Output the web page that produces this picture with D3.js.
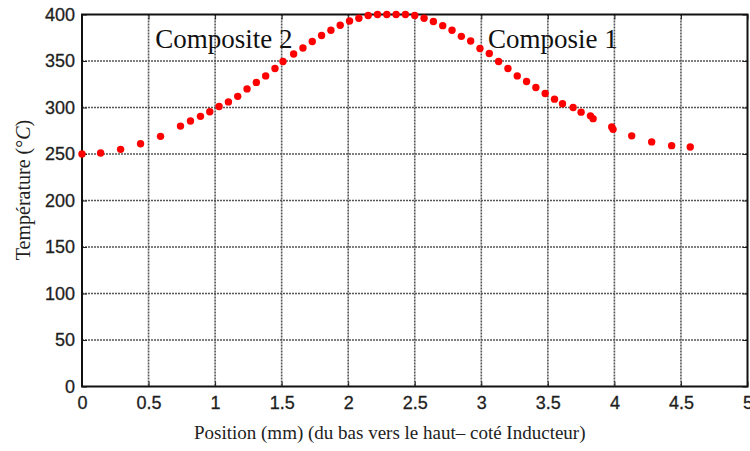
<!DOCTYPE html>
<html>
<head>
<meta charset="utf-8">
<script src="https://cdn.jsdelivr.net/npm/d3@7"></script>
<style>
  body { margin: 0; background: #fff; }
  svg { display: block; }
</style>
</head>
<body>
<div id="chart"></div>
<script>
// data
var positions = [0, 0.14, 0.29, 0.44, 0.59, 0.74, 0.815, 0.89, 0.96, 1.03, 1.10, 1.17, 1.24, 1.31, 1.38, 1.45, 1.51, 1.59, 1.66, 1.73, 1.80, 1.87,
    1.94, 2.01, 2.08, 2.15, 2.22, 2.29, 2.36, 2.43, 2.50, 2.57, 2.64, 2.71, 2.78, 2.85, 2.92, 2.99, 3.06, 3.13, 3.20, 3.27,
    3.34, 3.41, 3.48, 3.55, 3.61, 3.69, 3.75, 3.82, 3.84, 3.98, 3.99, 4.13, 4.28, 4.43, 4.57];
var temps = [250, 251, 255, 261, 269, 280, 285.5, 290.5, 295.5, 301, 306, 312, 320, 327, 334, 342, 349.5, 357.5, 364, 371, 377.5, 383,
    388.5, 393, 396, 399, 400, 400, 400, 400, 399, 396, 392.5, 388, 383, 376.5, 371.5, 363.5, 358, 349.5, 342, 334, 328,
    321.5, 315, 309, 304, 300, 295, 291, 288, 279, 276.5, 269.5, 263, 259, 257.5];
var xTicks = [0, 0.5, 1, 1.5, 2, 2.5, 3, 3.5, 4, 4.5, 5];
var yTicks = [0, 50, 100, 150, 200, 250, 300, 350, 400];
var labels = [{ text: "Composite 2", x: 0.55, y: 364 }, { text: "Composie 1", x: 3.05, y: 364 }];

var width = 750, height = 451;
var plotLeft = 82, plotRight = 747.5, plotTop = 14.5, plotBottom = 386.5;

var svg = d3.select("#chart").append("svg")
    .attr("width", width)
    .attr("height", height);

var x = d3.scaleLinear().domain([0, 5]).range([plotLeft, plotRight]);
var y = d3.scaleLinear().domain([0, 400]).range([plotBottom, plotTop]);

//grid
svg.append("g").selectAll("line")
    .data(xTicks.slice(1, -1))
    .enter().append("line")
    .attr("x1", d => x(d)).attr("x2", d => x(d))
    .attr("y1", plotTop).attr("y2", plotBottom)
    .style("stroke", "#555")
    .style("stroke-width", 1.6)
    .style("stroke-dasharray", "2,1");

svg.append("g").selectAll("line")
    .data(yTicks.slice(1, -1))
    .enter().append("line")
    .attr("x1", plotLeft).attr("x2", plotRight)
    .attr("y1", d => y(d)).attr("y2", d => y(d))
    .style("stroke", "#555")
    .style("stroke-width", 1.6)
    .style("stroke-dasharray", "2,1");

//axes
var xAxis = svg.append("g")
    .attr("transform", "translate(0," + plotBottom + ")")
    .call(d3.axisBottom(x).tickValues(xTicks).tickSize(-5).tickPadding(10).tickFormat(d3.format("")));
var yAxis = svg.append("g")
    .attr("transform", "translate(" + plotLeft + ",0)")
    .call(d3.axisLeft(y).tickValues(yTicks).tickSize(-5).tickPadding(7));
var xTop = svg.append("g")
    .attr("transform", "translate(0," + plotTop + ")")
    .call(d3.axisTop(x).tickValues(xTicks).tickSize(-5).tickFormat(""));
var yRight = svg.append("g")
    .attr("transform", "translate(" + plotRight + ",0)")
    .call(d3.axisRight(y).tickValues(yTicks).tickSize(-5).tickFormat(""));

[xAxis, yAxis, xTop, yRight].forEach(function (a) {
    a.select(".domain").remove();
    a.selectAll(".tick line").style("stroke", "#222").style("stroke-width", 1);
    a.selectAll(".tick text")
        .style("font-family", "'Liberation Sans', Arial, sans-serif")
        .style("font-size", "18px")
        .style("fill", "#1e1e1e")
        .style("stroke", "#1e1e1e")
        .style("stroke-width", 0.3);
});
xAxis.selectAll(".tick text").attr("dy", "0.72em");

svg.append("rect")
    .attr("x", plotLeft).attr("y", plotTop)
    .attr("width", plotRight - plotLeft).attr("height", plotBottom - plotTop)
    .style("fill", "none")
    .style("stroke", "#111")
    .style("stroke-width", 2);

//points
svg.append("g").selectAll("circle")
    .data(positions)
    .enter().append("circle")
    .attr("cx", d => x(d))
    .attr("cy", (d, i) => y(temps[i]))
    .attr("r", 3.7)
    .style("fill", "#ff0000");

//annotations
svg.append("g").selectAll("text")
    .data(labels)
    .enter().append("text")
    .attr("x", d => x(d.x))
    .attr("y", d => y(d.y))
    .text(d => d.text)
    .style("font-family", "'Liberation Serif', 'Times New Roman', serif")
    .style("font-size", "27px")
    .style("fill", "#111");

//axis titles
svg.append("text")
    .attr("x", (plotLeft + plotRight) / 2 - 25)
    .attr("y", 439)
    .attr("text-anchor", "middle")
    .text("Position (mm) (du bas vers le haut– coté Inducteur)")
    .style("font-family", "'Liberation Serif', 'Times New Roman', serif")
    .style("font-size", "19px")
    .style("fill", "#222");

var yTitle = svg.append("text")
    .attr("transform", "translate(30,190) rotate(-90)")
    .attr("text-anchor", "middle")
    .style("font-family", "'Liberation Serif', 'Times New Roman', serif")
    .style("font-size", "20px")
    .style("fill", "#222");
yTitle.append("tspan").text("Température (°");
yTitle.append("tspan").text("C").style("font-style", "italic");
yTitle.append("tspan").text(")");
</script>
</body>
</html>
